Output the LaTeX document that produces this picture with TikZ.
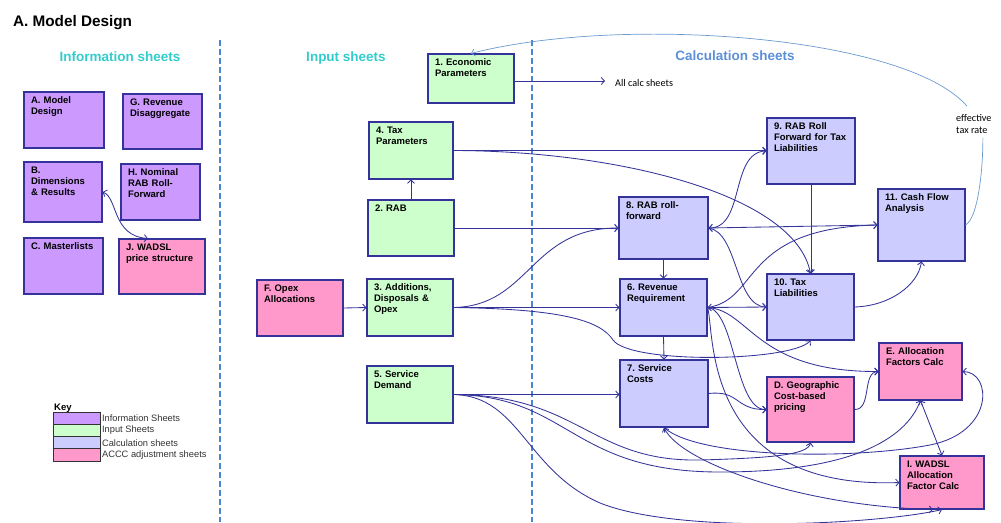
\documentclass[tikz,border=0pt]{standalone}
\usepackage{fontspec}
\setmainfont{Liberation Sans}
\newfontfamily\calibri{Carlito}
\usepackage{xcolor}
\usepackage{tikz}
\usetikzlibrary{calc}
\usetikzlibrary {arrows.meta}
\definecolor{Cinfo}{HTML}{CC99FF}
\definecolor{Cinput}{HTML}{CCFFCC}
\definecolor{Ccalc}{HTML}{CCCCFF}
\definecolor{Caccc}{HTML}{FF99CC}
\definecolor{Cedge}{HTML}{333399}
\definecolor{Cline}{HTML}{333399}
\definecolor{Chead}{HTML}{33CCCC}
\definecolor{Ccalchead}{HTML}{5B8FD8}
\definecolor{Cdiv}{HTML}{4A86D4}
\definecolor{Ctax}{HTML}{6A9AD0}
\newcommand\sheetfont{\fontsize{9.5}{11}\selectfont\bfseries\frenchspacing}
\tikzset{
  sheet/.code 2 args={%
    \pgfmathsetmacro\sheetw{#1-14}%
    \pgfmathsetmacro\sheetd{#2-16}%
    \tikzset{sheetbox, text width/.expanded=\sheetw pt, text depth/.expanded=\sheetd pt}},
  sheetbox/.style={draw=Cedge, line width=1.1pt, text height=7pt, inner xsep=7pt,
    inner ysep=4.5pt, align=left, font=\sheetfont, text=black},
  head/.style={anchor=base, font=\fontsize{13.5}{16}\selectfont\bfseries},
  note/.style={font=\calibri\fontsize{10.2}{12}\selectfont, inner sep=0pt},
  divider/.style={draw=Cdiv, line width=2.2pt, dash pattern=on 6pt off 3pt},
  conn/.style={draw=Cline, line width=0.85pt},
  taxline/.style={draw=Ctax, line width=0.7pt},
  keybox/.style={draw=black!80, line width=0.8pt, minimum width=47pt, minimum height=12.2pt, inner sep=0pt},
  keytext/.style={anchor=west, font=\fontsize{9.3}{10}\selectfont, text=black!80, inner sep=1.5pt},
}

\begin{document}
\begin{tikzpicture}[x=1pt, y=-1pt, >={Straight Barb[length=3.2pt,width=7pt]}]
\useasboundingbox (0,0) rectangle (1001,522);
%
\node[anchor=base west, font=\fontsize{15.3}{18}\selectfont\bfseries] (title) at (9.5,27) {A. Model Design};
\node[head, text=Chead] (info_head) at (120,61) {Information sheets};
\node[head, text=Chead] (input_head) at (346,61) {Input sheets};
\node[head, text=Ccalchead] (calc_head) at (735,60) {Calculation sheets};
%
\draw[divider] (220,40) -- (220,522);
\draw[divider] (532,40) -- (532,522);
%
% information sheets
\node[sheet={80}{56}, fill=Cinfo] (model_design) at (64,120) {A. Model\\Design};
\node[sheet={79}{55}, fill=Cinfo] (rev_disagg) at (162.5,121.5) {G. Revenue\\Disaggregate};
\node[sheet={78}{60}, fill=Cinfo] (dim_results) at (63,192) {B.\\Dimensions\\\& Results};
\node[sheet={79}{56}, fill=Cinfo] (nominal_rab) at (160.5,192) {H. Nominal\\RAB Roll-\\Forward};
\node[sheet={79}{56}, fill=Cinfo] (masterlists) at (63.5,266) {C. Masterlists};
\node[sheet={86}{55}, fill=Caccc] (wadsl_price) at (162,266.5) {J. WADSL\\price structure};
%
% input sheets
\node[sheet={86}{56}, fill=Caccc] (opex_alloc) at (300,308) {F. Opex\\Allocations};
\node[sheet={86}{49}, fill=Cinput] (econ_par) at (471,78.5) {1. Economic\\Parameters};
\node[sheet={84}{57}, fill=Cinput] (tax_par) at (411,150.5) {4. Tax\\Parameters};
\node[sheet={86}{56}, fill=Cinput] (rab) at (411,228) {2. RAB};
\node[sheet={86}{57}, fill=Cinput] (add_disp) at (410,307.5) {3. Additions,\\Disposals \&\\Opex};
\node[sheet={86}{57}, fill=Cinput] (serv_dem) at (410,394.5) {5. Service\\Demand};
%
% calculation sheets
\node[sheet={88}{66}, fill=Ccalc] (rab_tax) at (811,151) {9. RAB Roll\\Forward for Tax\\Liabilities};
\node[sheet={89}{62}, fill=Ccalc] (rab_roll) at (663.5,228) {8. RAB roll-\\forward};
\node[sheet={87}{72}, fill=Ccalc] (cash_flow) at (921.5,225) {11. Cash Flow\\Analysis};
\node[sheet={87}{66}, fill=Ccalc] (tax_liab) at (810.5,307) {10. Tax\\Liabilities};
\node[sheet={87}{57}, fill=Ccalc] (rev_req) at (663.5,307.5) {6. Revenue\\Requirement};
\node[sheet={88}{67}, fill=Ccalc] (serv_cost) at (664,393.5) {7. Service\\Costs};
\node[sheet={87}{65}, fill=Caccc] (geo_price) at (810.5,409.5) {D. Geographic\\Cost-based\\pricing};
\node[sheet={83}{57}, fill=Caccc] (alloc_fac) at (920.5,371.5) {E. Allocation\\Factors Calc};
\node[sheet={84}{53}, fill=Caccc] (wadsl_alloc) at (942,482.5) {I. WADSL\\Allocation\\Factor Calc};
%
% key
\node[anchor=base west, font=\fontsize{9.5}{10}\selectfont\bfseries, inner sep=0pt] (key_title) at (54,410) {Key};
\foreach \col/\txt [count=\i] in {Cinfo/Information Sheets, Cinput/Input Sheets, Ccalc/Calculation sheets, Caccc/ACCC adjustment sheets}{
  \node[keybox, fill=\col] (key_\i) at (76.5,406.1+12.2*\i) {};
  \node[keytext] (key_txt_\i) at (key_\i.east) {\txt};
}
%
% links
\draw[conn, <->] (dim_results.east) .. controls (118,198) and (112,236) .. ([xshift=-14pt]wadsl_price.north);
\draw[conn, ->] (opex_alloc.east) -- (add_disp.west);
\draw[conn, ->] (rab.north) -- (tax_par.south);
\coordinate (all_calc) at (605,81);
\node[note, anchor=base west] (all_calc_txt) at (615,86) {All calc sheets};
\draw[conn, ->] (econ_par.east |- all_calc) -- (all_calc);
%
\draw[conn, ->] (tax_par.east) -- (tax_par.east -| rab_tax.west);
\draw[conn, ->] (tax_par.east) .. controls (620,151) and (795,195) .. (tax_liab.north);
\draw[conn, ->] (rab.east) -- (rab.east -| rab_roll.west);
\draw[conn, ->] (add_disp.east) .. controls (530,306) and (530,228) .. (rab_roll.west);
\draw[conn, ->] (add_disp.east) -- (add_disp.east -| rev_req.west);
\draw[conn, ->] (add_disp.east) .. controls (560,309) and (600,320) .. (613,340)
  .. controls (630,364) and (790,362) .. (tax_liab.south);
\draw[conn, ->] (serv_dem.east) -- (serv_dem.east -| serv_cost.west);
\draw[conn, ->] (serv_dem.east) .. controls (580,395) and (590,462) .. (700,460)
  .. controls (770,458) and (808,455) .. (geo_price.south);
\draw[conn, ->] (serv_dem.east) .. controls (570,396) and (570,472) .. (720,472)
  .. controls (850,472) and (905,440) .. (alloc_fac.south);
\draw[conn, ->] (serv_dem.east) .. controls (520,396) and (525,470) .. (600,503)
  .. controls (680,535) and (880,524) .. (wadsl_alloc.south);
%
\draw[conn, ->] (rab_tax.south) -- (rab_tax.south |- tax_liab.north);
\draw[conn, <->] (rab_roll.east) .. controls (745,228) and (730,152) .. (rab_tax.west);
\draw[conn, <->] (rab_roll.east) -- (cash_flow.west);
\draw[conn, ->] (rab_roll.east) .. controls (738,232) and (735,306) .. (tax_liab.west);
\draw[conn, ->] (rab_roll.south) -- (rev_req.north);
\draw[conn, ->] (rev_req.south) -- (serv_cost.north);
\draw[conn, <->] (rev_req.east) -- (tax_liab.west);
\draw[conn, ->] (rev_req.east) .. controls (760,300) and (740,228) .. (cash_flow.west);
\draw[conn, ->] (rev_req.east) .. controls (750,310) and (755,372) .. (alloc_fac.west);
\draw[conn, ->] (rev_req.east) .. controls (735,310) and (735,410) .. (geo_price.west);
\draw[conn, ->] (rev_req.east) .. controls (715,330) and (700,490) .. (wadsl_alloc.west);
\draw[conn, ->] (serv_cost.east) .. controls (740,390) and (735,410) .. (geo_price.west);
\draw[conn, ->] (geo_price.east) .. controls (872,410) and (862,372) .. (alloc_fac.west);
\draw[conn, <->] (alloc_fac.south) -- (wadsl_alloc.north);
\draw[conn, ->] (tax_liab.east) .. controls (890,306) and (918,285) .. (cash_flow.south);
\draw[conn, <->] (alloc_fac.east) .. controls (992,372) and (995,432) .. (930,445)
  .. controls (850,460) and (700,458) .. (serv_cost.south);
\draw[conn, <->] (serv_cost.south) .. controls (680,462) and (800,506) .. ([xshift=-9pt]wadsl_alloc.south);
%
% effective tax rate
\node[note, anchor=north west, align=left] (eff_tax) at (956,114) {effective\\tax rate};
\draw[taxline] (cash_flow.east) .. controls (978,218) and (983,170) .. ([xshift=9pt,yshift=-4pt]eff_tax.south);
\draw[taxline, ->] ([xshift=-7pt,yshift=8pt]eff_tax.north) .. controls (905,35) and (620,15) .. (econ_par.north);
\end{tikzpicture}
\end{document}
